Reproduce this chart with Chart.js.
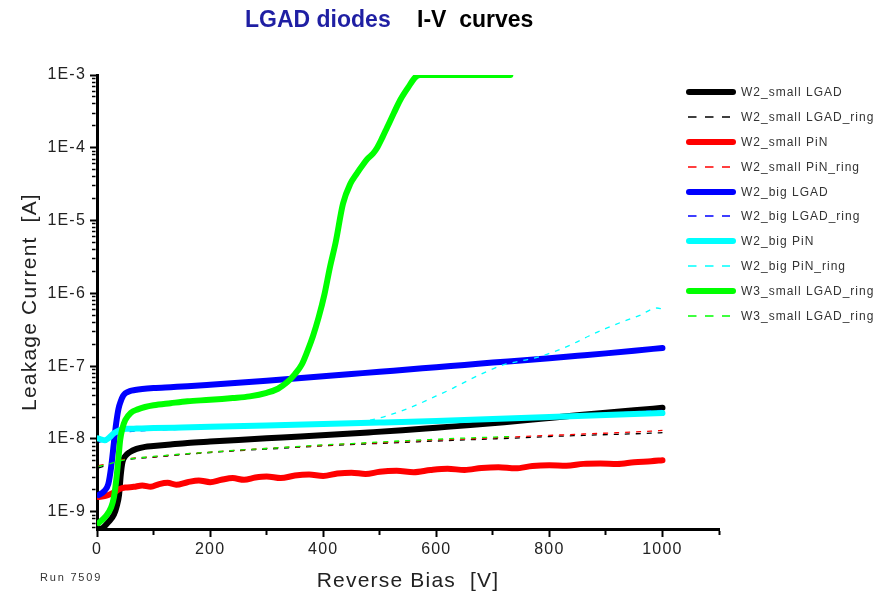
<!DOCTYPE html>
<html lang="en">
<head>
<meta charset="utf-8">
<title>LGAD diodes I-V curves</title>
<script src="https://cdn.jsdelivr.net/npm/chart.js@4.4.1/dist/chart.umd.min.js"></script>
<style>
  html, body { margin: 0; padding: 0; background: #fff; }
  #wrap { position: relative; width: 875px; height: 600px; font-family: 'Liberation Sans', Arial, sans-serif; }
  #chart { position: absolute; left: 0; top: 0; }
  .titulo { position: absolute; top: 6px; font-size: 23px; font-weight: bold; white-space: pre; }
  #legenda { position: absolute; left: 684px; top: 80px; z-index: 2; }
  #legenda .item { display: flex; align-items: center; height: 24.8px; }
  #legenda .txt { margin-left: 3px; font-size: 12px; color: #333; letter-spacing: 1px; white-space: pre; }
  #run { position: absolute; left: 40px; top: 571px; font-size: 11px; color: #333; letter-spacing: 1.8px; }
</style>
</head>
<body>
<div id="wrap">
  <canvas id="chart" width="875" height="600"></canvas>
  <span class="titulo" style="left:245px;color:#1f1fa3">LGAD diodes</span>
  <span class="titulo" style="left:417px;color:#000">I-V  curves</span>
  <div id="legenda"></div>
  <div id="run">Run 7509</div>
</div>
<script>
// ─── Eixos ───────────────────────────────────────────
const X_MIN = 0, X_MAX = 1100;
const Y_MIN = 5.8e-10, Y_MAX = 1e-3;

// ─── Dados (tensão reversa [V] / corrente [A]) ───────
const V_SMALL_LGAD = [3, 10, 20, 30, 35, 39, 42, 45, 50, 58, 70, 85, 100, 130, 160, 200, 250, 300, 360, 420, 480, 540, 600, 660, 720, 780, 840, 900, 950, 1000];
const I_SMALL_LGAD = [5.8e-10, 6.0e-10, 7.2e-10, 9.2e-10, 1.2e-9, 1.7e-9, 3.2e-9, 4.8e-9, 5.8e-9, 6.6e-9, 7.3e-9, 7.8e-9, 8.0e-9, 8.4e-9, 8.8e-9, 9.2e-9, 9.7e-9, 1.02e-8, 1.08e-8, 1.15e-8, 1.23e-8, 1.32e-8, 1.43e-8, 1.55e-8, 1.7e-8, 1.88e-8, 2.08e-8, 2.3e-8, 2.48e-8, 2.68e-8];

const V_SMALL_LGAD_RING = [3, 20, 40, 60, 100, 150, 200, 260, 320, 380, 440, 500, 560, 620, 680, 740, 800, 860, 920, 980, 1000];
const I_SMALL_LGAD_RING = [4.0e-9, 4.4e-9, 4.9e-9, 5.3e-9, 5.6e-9, 6.1e-9, 6.5e-9, 7.0e-9, 7.4e-9, 7.9e-9, 8.3e-9, 8.7e-9, 9.1e-9, 9.5e-9, 9.9e-9, 1.03e-8, 1.08e-8, 1.12e-8, 1.16e-8, 1.2e-8, 1.22e-8];

const V_SMALL_PIN = [2, 15, 30, 40, 50, 65, 80, 95, 110, 125, 140, 160, 180, 200, 220, 240, 260, 280, 300, 325, 350, 375, 400, 425, 450, 475, 500, 530, 560, 590, 620, 650, 680, 710, 740, 770, 800, 830, 860, 890, 920, 950, 980, 1000];
const I_SMALL_PIN = [1.6e-9, 1.65e-9, 1.85e-9, 2.05e-9, 2.15e-9, 2.2e-9, 2.3e-9, 2.2e-9, 2.4e-9, 2.5e-9, 2.35e-9, 2.55e-9, 2.7e-9, 2.55e-9, 2.75e-9, 2.9e-9, 2.75e-9, 2.95e-9, 3.05e-9, 2.9e-9, 3.15e-9, 3.25e-9, 3.1e-9, 3.35e-9, 3.45e-9, 3.3e-9, 3.55e-9, 3.65e-9, 3.5e-9, 3.75e-9, 3.9e-9, 3.75e-9, 4.0e-9, 4.1e-9, 3.95e-9, 4.25e-9, 4.35e-9, 4.3e-9, 4.55e-9, 4.6e-9, 4.55e-9, 4.8e-9, 4.95e-9, 5.1e-9];

const V_SMALL_PIN_RING = [3, 20, 40, 60, 100, 150, 200, 260, 320, 380, 440, 500, 560, 620, 680, 740, 800, 860, 920, 980, 1000];
const I_SMALL_PIN_RING = [4.3e-9, 4.6e-9, 5.1e-9, 5.4e-9, 5.7e-9, 6.2e-9, 6.6e-9, 7.1e-9, 7.6e-9, 8.0e-9, 8.5e-9, 8.9e-9, 9.4e-9, 9.8e-9, 1.02e-8, 1.07e-8, 1.12e-8, 1.17e-8, 1.22e-8, 1.28e-8, 1.31e-8];

const V_BIG_LGAD = [3, 12, 20, 25, 30, 34, 38, 42, 46, 50, 58, 67, 80, 100, 130, 160, 200, 250, 300, 350, 400, 450, 500, 550, 600, 650, 700, 750, 800, 850, 900, 950, 1000];
const I_BIG_LGAD = [1.7e-9, 1.9e-9, 2.4e-9, 4.1e-9, 9e-9, 1.66e-8, 2.6e-8, 3.3e-8, 3.9e-8, 4.25e-8, 4.55e-8, 4.7e-8, 4.85e-8, 5.0e-8, 5.15e-8, 5.3e-8, 5.55e-8, 5.9e-8, 6.3e-8, 6.75e-8, 7.25e-8, 7.8e-8, 8.4e-8, 9.0e-8, 9.7e-8, 1.04e-7, 1.12e-7, 1.2e-7, 1.29e-7, 1.39e-7, 1.5e-7, 1.63e-7, 1.78e-7];

const V_BIG_LGAD_RING = [3, 20, 40, 70, 100, 150, 200, 300, 400, 500, 600, 700, 800, 900, 1000];
const I_BIG_LGAD_RING = [9e-9, 1.0e-8, 1.2e-8, 1.28e-8, 1.32e-8, 1.36e-8, 1.42e-8, 1.5e-8, 1.58e-8, 1.67e-8, 1.77e-8, 1.9e-8, 2.06e-8, 2.26e-8, 2.47e-8];

const V_BIG_PIN = [2, 8, 14, 22, 30, 38, 45, 55, 70, 100, 150, 200, 300, 400, 500, 600, 700, 800, 900, 1000];
const I_BIG_PIN = [1.02e-8, 9.8e-9, 9.6e-9, 1.05e-8, 1.2e-8, 1.3e-8, 1.36e-8, 1.38e-8, 1.39e-8, 1.41e-8, 1.44e-8, 1.47e-8, 1.53e-8, 1.6e-8, 1.68e-8, 1.77e-8, 1.88e-8, 2.0e-8, 2.13e-8, 2.27e-8];

const V_BIG_PIN_RING = [2, 15, 30, 45, 70, 100, 200, 300, 400, 450, 480, 510, 540, 570, 600, 630, 660, 690, 720, 750, 780, 810, 840, 870, 900, 930, 960, 990, 1000];
const I_BIG_PIN_RING = [1.0e-8, 9.8e-9, 1.18e-8, 1.32e-8, 1.36e-8, 1.38e-8, 1.45e-8, 1.52e-8, 1.6e-8, 1.68e-8, 1.8e-8, 2.05e-8, 2.45e-8, 3.05e-8, 3.9e-8, 5.0e-8, 6.6e-8, 8.5e-8, 1.05e-7, 1.18e-7, 1.33e-7, 1.6e-7, 2.0e-7, 2.6e-7, 3.3e-7, 4.1e-7, 5.0e-7, 6.3e-7, 6.1e-7];

const V_W3_LGAD = [3, 15, 25, 30, 34, 38, 41, 45, 50, 60, 72, 85, 100, 130, 160, 200, 240, 270, 300, 320, 336, 350, 362, 372, 382, 392, 402, 412, 422, 435, 448, 460, 470, 478, 488, 496, 505, 513, 525, 536, 550, 563, 572, 600, 650, 700, 731];
const I_W3_LGAD = [7.0e-10, 8.6e-10, 1.15e-9, 1.6e-9, 2.7e-9, 5.5e-9, 9.7e-9, 1.4e-8, 1.82e-8, 2.3e-8, 2.55e-8, 2.75e-8, 2.9e-8, 3.1e-8, 3.3e-8, 3.45e-8, 3.65e-8, 3.85e-8, 4.3e-8, 4.9e-8, 6.0e-8, 7.8e-8, 1.05e-7, 1.6e-7, 2.6e-7, 4.7e-7, 9.5e-7, 2.3e-6, 5.0e-6, 1.7e-5, 3.2e-5, 4.5e-5, 5.8e-5, 7.0e-5, 8.3e-5, 1.02e-4, 1.4e-4, 1.9e-4, 3.0e-4, 4.5e-4, 6.7e-4, 9.3e-4, 1e-3, 1e-3, 1e-3, 1e-3, 1e-3];

const V_W3_LGAD_RING = [3, 20, 40, 60, 100, 150, 200, 250, 300, 350, 400, 450, 500, 550, 600, 650, 700, 731];
const I_W3_LGAD_RING = [4.2e-9, 4.5e-9, 5.0e-9, 5.35e-9, 5.75e-9, 6.2e-9, 6.6e-9, 7.05e-9, 7.4e-9, 7.85e-9, 8.3e-9, 8.65e-9, 9.1e-9, 9.5e-9, 9.9e-9, 1.03e-8, 1.06e-8, 1.08e-8];

// ─── Séries ──────────────────────────────────────────
const SERIES = [
  { label: 'W2_small LGAD',      v: V_SMALL_LGAD,      i: I_SMALL_LGAD,      cor: '#000000', ring: false },
  { label: 'W2_small LGAD_ring', v: V_SMALL_LGAD_RING, i: I_SMALL_LGAD_RING, cor: '#000000', ring: true },
  { label: 'W2_small PiN',       v: V_SMALL_PIN,       i: I_SMALL_PIN,       cor: '#ff0000', ring: false },
  { label: 'W2_small PiN_ring',  v: V_SMALL_PIN_RING,  i: I_SMALL_PIN_RING,  cor: '#ff0000', ring: true },
  { label: 'W2_big LGAD',        v: V_BIG_LGAD,        i: I_BIG_LGAD,        cor: '#0000ff', ring: false },
  { label: 'W2_big LGAD_ring',   v: V_BIG_LGAD_RING,   i: I_BIG_LGAD_RING,   cor: '#0000ff', ring: true },
  { label: 'W2_big PiN',         v: V_BIG_PIN,         i: I_BIG_PIN,         cor: '#00ffff', ring: false },
  { label: 'W2_big PiN_ring',    v: V_BIG_PIN_RING,    i: I_BIG_PIN_RING,    cor: '#00ffff', ring: true },
  { label: 'W3_small LGAD_ring', v: V_W3_LGAD,         i: I_W3_LGAD,         cor: '#00ff00', ring: false },
  { label: 'W3_small LGAD_ring', v: V_W3_LGAD_RING,    i: I_W3_LGAD_RING,    cor: '#00ff00', ring: true },
];

const datasets = SERIES.map((s, k) => ({
  label: s.label,
  data: s.v.map((x, j) => ({ x, y: s.i[j] })),
  borderColor: s.cor,
  backgroundColor: s.cor,
  borderWidth: s.ring ? 1.3 : 6,
  borderDash: s.ring ? [5, 6] : [],
  borderCapStyle: s.ring ? 'butt' : 'round',
  borderJoinStyle: 'round',
  cubicInterpolationMode: 'monotone',
  pointRadius: 0,
  fill: false,
  order: SERIES.length - k,   // o último da lista fica por cima
}));

// ─── Espaçamento de letras (texto do Origin é "largo") ─
const espacoLetras = {
  id: 'espacoLetras',
  beforeDraw(chart) { chart.ctx.letterSpacing = '1.2px'; },
};

const isMaior = c => c.tick && c.tick.major;
const isPar   = c => c.tick && c.tick.value % 200 === 0;

const chart = new Chart(document.getElementById('chart').getContext('2d'), {
  type: 'line',
  data: { datasets },
  options: {
    responsive: false,
    animation: false,
    layout: { padding: { left: 0, right: 156, top: 75, bottom: 0 } },
    plugins: {
      legend:  { display: false },
      tooltip: { enabled: false },
    },
    scales: {
      x: {
        type: 'linear',
        min: X_MIN,
        max: X_MAX,
        afterFit: s => { s.height = 71; },
        border: { display: true, color: '#000', width: 3 },
        grid: {
          drawOnChartArea: false,
          tickLength: 8,
          tickColor: '#000',
          tickWidth: 2,
          tickBorderDash: c => isPar(c) ? [] : [4, 50],
        },
        ticks: {
          stepSize: 100,
          autoSkip: false,
          maxRotation: 0,
          padding: 3,
          color: '#222',
          font: { family: "'Liberation Sans', Arial, sans-serif", size: 16 },
          callback: v => (v % 200 === 0 ? String(v) : ''),
        },
        title: {
          display: true,
          text: 'Reverse Bias  [V]',
          color: '#222',
          font: { family: "'Liberation Sans', Arial, sans-serif", size: 21 },
          padding: { top: 0, bottom: 6 },
        },
      },
      y: {
        type: 'logarithmic',
        min: Y_MIN,
        max: Y_MAX,
        afterFit: s => { s.width = 97; },
        afterBuildTicks: s => {
          const t = [];
          for (let e = -10; e <= -3; e++) {
            for (let m = 1; m <= 9; m++) {
              const v = m * Math.pow(10, e);
              if (v >= s.min * 0.999 && v <= s.max * 1.001) t.push({ value: v, major: m === 1 });
            }
          }
          s.ticks = t;
        },
        border: { display: true, color: '#000', width: 3 },
        grid: {
          drawOnChartArea: false,
          tickLength: 7,
          tickColor: '#000',
          tickWidth: c => isMaior(c) ? 2 : 1.5,
          tickBorderDash: c => isMaior(c) ? [] : [3.5, 50],
          tickBorderDashOffset: c => isMaior(c) ? 0 : 51.5,
        },
        ticks: {
          autoSkip: false,
          padding: 4,
          color: '#222',
          font: { family: "'Liberation Sans', Arial, sans-serif", size: 16 },
          callback: (v, i, ticks) => ticks[i].major ? '1E' + Math.round(Math.log10(v)) : '',
        },
        title: {
          display: true,
          text: 'Leakage Current  [A]',
          color: '#222',
          font: { family: "'Liberation Sans', Arial, sans-serif", size: 21 },
          padding: { top: 18, bottom: 0 },
        },
      },
    },
  },
  plugins: [espacoLetras],
});

// ─── Legenda manual ──────────────────────────────────
document.getElementById('legenda').innerHTML = chart.data.datasets.map(d => {
  const tracejado = d.borderDash.length > 0;
  const linha = tracejado
    ? `<line x1="4" y1="5" x2="46" y2="5" stroke="${d.borderColor}" stroke-width="1.3" stroke-dasharray="8.5 8.5"/>`
    : `<line x1="5" y1="5" x2="49" y2="5" stroke="${d.borderColor}" stroke-width="6" stroke-linecap="round"/>`;
  return `<div class="item"><svg width="54" height="10">${linha}</svg><span class="txt">${d.label}</span></div>`;
}).join('');
</script>
</body>
</html>
